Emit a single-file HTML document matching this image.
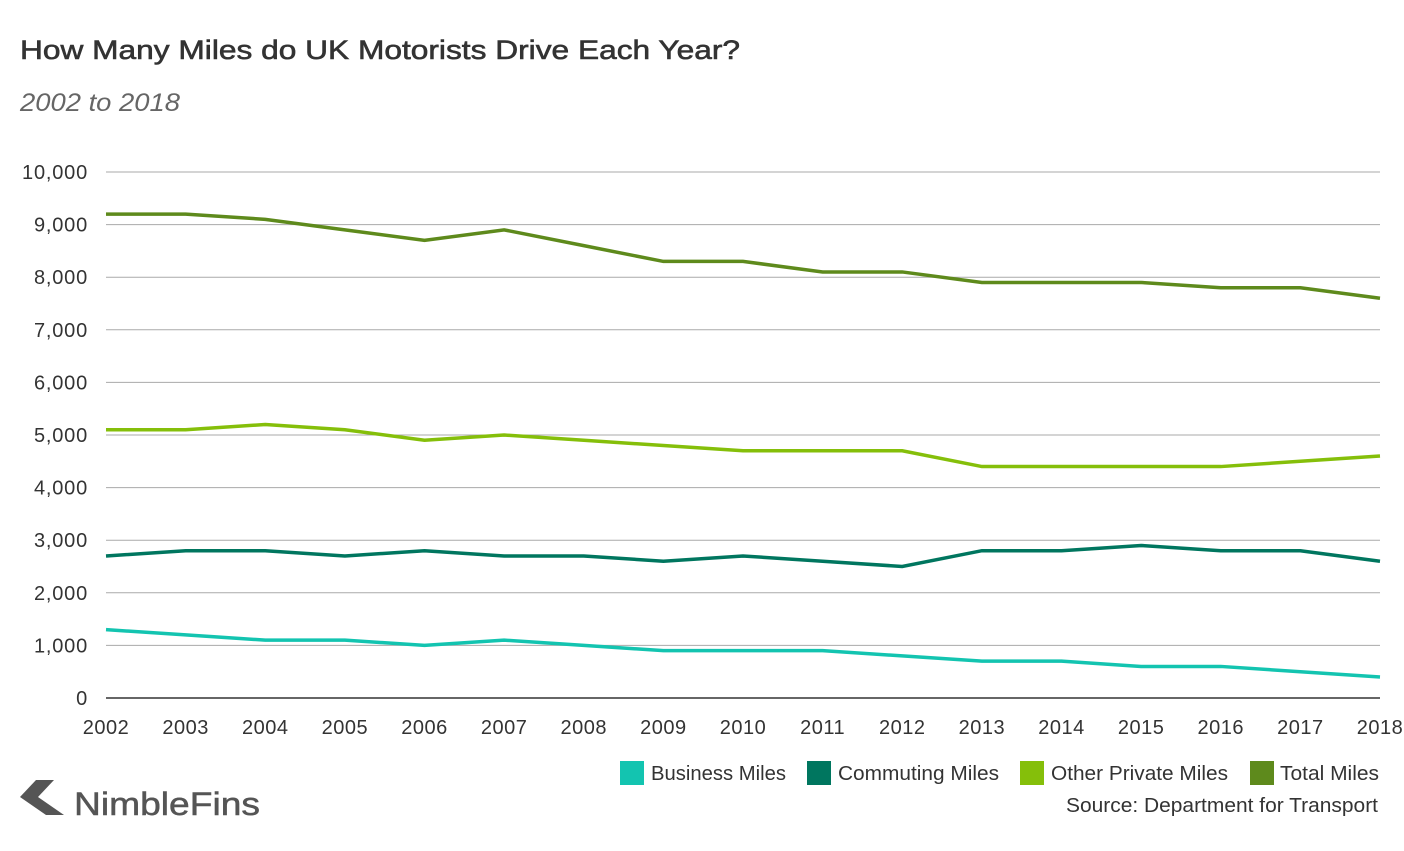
<!DOCTYPE html>
<html><head><meta charset="utf-8"><style>
body{margin:0;background:#fff;width:1404px;height:846px;overflow:hidden;font-family:"Liberation Sans",sans-serif;}
</style></head><body>
<svg id="c" width="1404" height="846" font-family="Liberation Sans, sans-serif">
<text x="20" y="59" font-size="27" fill="#333" stroke="#333" stroke-width="0.6" textLength="720" lengthAdjust="spacingAndGlyphs">How Many Miles do UK Motorists Drive Each Year?</text>
<text x="20" y="111" font-size="25" fill="#666" font-style="italic" textLength="160" lengthAdjust="spacingAndGlyphs">2002 to 2018</text>
<g id="grid"></g>
<g id="ylab"></g>
<g id="xlab"></g>
<g id="lines"></g>
<g font-size="20" fill="#333">
<rect x="620" y="761" width="24" height="24" fill="#13c4b0"/>
<text x="651" y="780" textLength="135" lengthAdjust="spacingAndGlyphs">Business Miles</text>
<rect x="807" y="761" width="24" height="24" fill="#00765f"/>
<text x="838" y="780" textLength="161" lengthAdjust="spacingAndGlyphs">Commuting Miles</text>
<rect x="1020" y="761" width="24" height="24" fill="#85bf0a"/>
<text x="1051" y="780" textLength="177" lengthAdjust="spacingAndGlyphs">Other Private Miles</text>
<rect x="1250" y="761" width="24" height="24" fill="#5e8a1c"/>
<text x="1280" y="780" textLength="99" lengthAdjust="spacingAndGlyphs">Total Miles</text>
</g>
<text x="1066" y="812" font-size="20" fill="#333" textLength="312" lengthAdjust="spacingAndGlyphs">Source: Department for Transport</text>
<g>
<polygon points="36,780 54,780 38,797 20,797" fill="#555"/>
<polygon points="20,797 38,797 64,815 46,815" fill="#555"/>
<text x="74" y="815" font-size="32" fill="#555" stroke="#555" stroke-width="0.5" textLength="186" lengthAdjust="spacingAndGlyphs">NimbleFins</text>
</g>
</svg>
<script>
const years=["2002","2003","2004","2005","2006","2007","2008","2009","2010","2011","2012","2013","2014","2015","2016","2017","2018"];
const yTicks=[0,1000,2000,3000,4000,5000,6000,7000,8000,9000,10000];
const business=[1300,1200,1100,1100,1000,1100,1000,900,900,900,800,700,700,600,600,500,400];
const commuting=[2700,2800,2800,2700,2800,2700,2700,2600,2700,2600,2500,2800,2800,2900,2800,2800,2600];
const otherPrivate=[5100,5100,5200,5100,4900,5000,4900,4800,4700,4700,4700,4400,4400,4400,4400,4500,4600];
const total=[9200,9200,9100,8900,8700,8900,8600,8300,8300,8100,8100,7900,7900,7900,7800,7800,7600];
const NS="http://www.w3.org/2000/svg";
const x0=106,x1=1380,y0=698,y1=172;
const xs=i=>x0+(x1-x0)*i/(years.length-1);
const ys=v=>y0-(y0-y1)*v/10000;
const grid=document.getElementById('grid'),yl=document.getElementById('ylab'),xl=document.getElementById('xlab'),lg=document.getElementById('lines');
yTicks.forEach(t=>{
 const l=document.createElementNS(NS,'line');
 
 
 l.setAttribute('x1',x0);l.setAttribute('x2',x1);l.setAttribute('y1',ys(t));l.setAttribute('y2',ys(t));
 l.setAttribute('stroke',t===0?'#333':'#aaa');l.setAttribute('stroke-width',t===0?1.5:1);
 grid.appendChild(l);
 const tx=document.createElementNS(NS,'text');
 
 
 tx.setAttribute('x',88);tx.setAttribute('y',ys(t)+7);tx.setAttribute('text-anchor','end');
 tx.setAttribute('font-size','20');tx.setAttribute('fill','#333');tx.setAttribute('letter-spacing','0.8');
 tx.textContent=t.toLocaleString('en-US');yl.appendChild(tx);
});
years.forEach((y,i)=>{
 const tx=document.createElementNS(NS,'text');
 
 
 tx.setAttribute('x',xs(i));tx.setAttribute('y',734);tx.setAttribute('text-anchor','middle');
 tx.setAttribute('font-size','20');tx.setAttribute('fill','#333');tx.setAttribute('letter-spacing','0.5');
 tx.textContent=y;xl.appendChild(tx);
});
[[business,'#13c4b0','business-line'],[commuting,'#00765f','commuting-line'],[otherPrivate,'#85bf0a','other-private-line'],[total,'#5e8a1c','total-line']].forEach(([d,c,n])=>{
 const p=document.createElementNS(NS,'polyline');
 
 
 p.setAttribute('points',d.map((v,i)=>xs(i)+','+ys(v)).join(' '));
 p.setAttribute('fill','none');p.setAttribute('stroke',c);p.setAttribute('stroke-width','3.5');
 lg.appendChild(p);
});
</script>
</body></html>
